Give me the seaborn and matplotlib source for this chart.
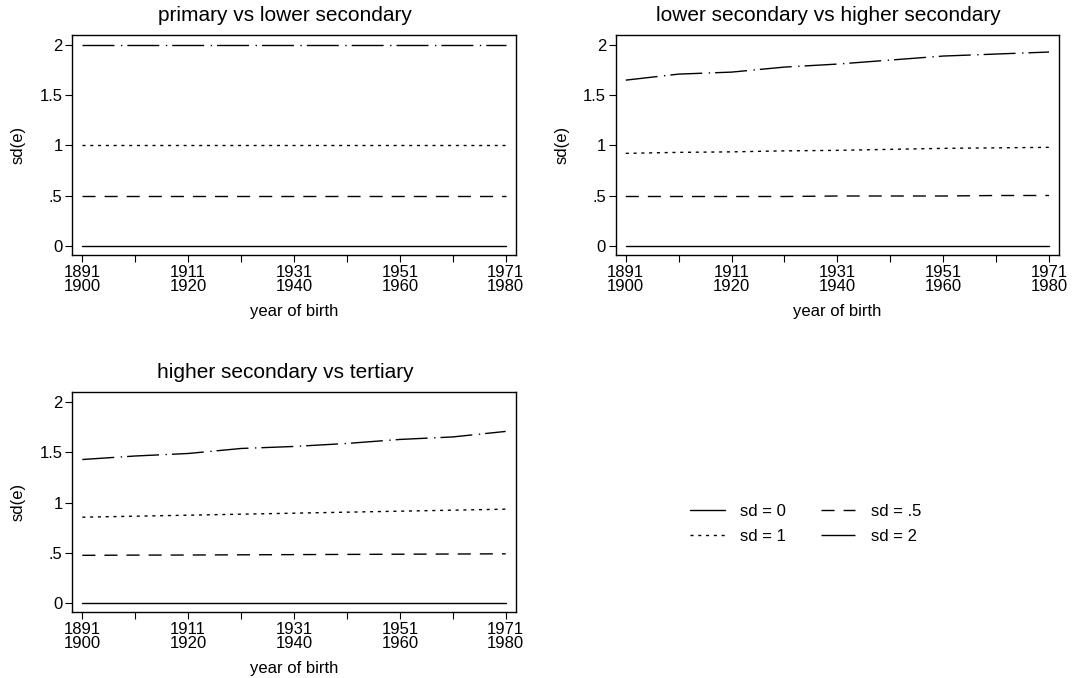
import matplotlib
matplotlib.use("Agg")
import numpy as np
import pandas as pd
import seaborn as sns
import matplotlib.pyplot as plt
from matplotlib.lines import Line2D

# cohorts of birth (10-year bands)
cohort_start = [1891, 1901, 1911, 1921, 1931, 1941, 1951, 1961, 1971]
cohort_end = [1900, 1910, 1920, 1930, 1940, 1950, 1960, 1970, 1980]

panel_titles = ["primary vs lower secondary",
                "lower secondary vs higher secondary",
                "higher secondary vs tertiary"]
sd_levels = ["sd = 0", "sd = .5", "sd = 1", "sd = 2"]

# sd(e) by cohort, one list per panel and sd level
p1_sd0 = [0, 0, 0, 0, 0, 0, 0, 0, 0]
p1_sd05 = [0.5, 0.5, 0.5, 0.5, 0.5, 0.5, 0.5, 0.5, 0.5]
p1_sd1 = [1, 1, 1, 1, 1, 1, 1, 1, 1]
p1_sd2 = [2, 2, 2, 2, 2, 2, 2, 2, 2]

p2_sd0 = [0, 0, 0, 0, 0, 0, 0, 0, 0]
p2_sd05 = [0.49, 0.49, 0.49, 0.49, 0.495, 0.495, 0.495, 0.50, 0.50]
p2_sd1 = [0.92, 0.93, 0.935, 0.945, 0.95, 0.96, 0.97, 0.975, 0.98]
p2_sd2 = [1.65, 1.71, 1.73, 1.78, 1.81, 1.85, 1.89, 1.91, 1.93]

p3_sd0 = [0, 0, 0, 0, 0, 0, 0, 0, 0]
p3_sd05 = [0.475, 0.477, 0.478, 0.48, 0.482, 0.484, 0.486, 0.488, 0.49]
p3_sd1 = [0.855, 0.865, 0.875, 0.885, 0.895, 0.905, 0.915, 0.925, 0.935]
p3_sd2 = [1.43, 1.465, 1.49, 1.54, 1.56, 1.59, 1.63, 1.655, 1.71]

panels = [
    [p1_sd0, p1_sd05, p1_sd1, p1_sd2],
    [p2_sd0, p2_sd05, p2_sd1, p2_sd2],
    [p3_sd0, p3_sd05, p3_sd1, p3_sd2],
]

rows = []
for title, series in zip(panel_titles, panels):
    for sd, vals in zip(sd_levels, series):
        for i, v in enumerate(vals):
            rows.append({"panel": title, "cohort": i, "sd": sd, "value": v})
df = pd.DataFrame(rows)

sns.set_style("ticks")
plt.rcParams['font.family'] = ['Liberation Sans', 'DejaVu Sans']
plt.rcParams['text.color'] = 'black'
plt.rcParams['axes.labelcolor'] = 'black'
plt.rcParams['xtick.color'] = 'black'
plt.rcParams['ytick.color'] = 'black'

dash_styles = {
    "sd = 0": "",
    "sd = .5": (9.4, 6.5),
    "sd = 1": (2.2, 3.4),
    "sd = 2": (23, 4.7, 1, 3.6),
}

fig = plt.figure(figsize=(10.74, 6.78), dpi=100)
axes_pos = [
    [0.0673, 0.6239, 0.4129, 0.3245],
    [0.5733, 0.6239, 0.4128, 0.3245],
    [0.0673, 0.0969, 0.4129, 0.3245],
]

tick_labels = [f"{a}\n{b}" if i % 2 == 0 else "" for i, (a, b) in enumerate(zip(cohort_start, cohort_end))]

for title, pos in zip(panel_titles, axes_pos):
    ax = fig.add_axes(pos)
    sub = df[df["panel"] == title]
    sns.lineplot(data=sub, x="cohort", y="value", style="sd", style_order=sd_levels,
                 dashes=dash_styles, color="black", linewidth=1.0, legend=False, ax=ax)
    ax.set_xlim(-0.19, 8.19)
    ax.set_ylim(-0.093, 2.1)
    ax.set_yticks([0, 0.5, 1, 1.5, 2])
    ax.set_yticklabels(["0", ".5", "1", "1.5", "2"], fontsize=12)
    ax.set_xticks(range(len(cohort_start)))
    ax.set_xticklabels(tick_labels, fontsize=12, linespacing=0.95)
    ax.tick_params(length=5, width=0.8, color="black", pad=2)
    ax.set_xlabel("year of birth", fontsize=12, labelpad=7)
    ax.set_ylabel("sd(e)", fontsize=12, labelpad=10)
    ax.set_title(title, fontsize=15, pad=10, x=0.48)
    for s in ax.spines.values():
        s.set_linewidth(1.0)
        s.set_color("black")

# legend samples; the long dash of sd = 2 fills the short sample, as in the original
legend_styles = {
    "sd = 0": "-",
    "sd = .5": (0, (9.4, 6.5)),
    "sd = 1": (0, (2.2, 3.4)),
    "sd = 2": (0, (30, 4.7, 1, 3.6)),
}
handles = {s: Line2D([], [], color="black", lw=1.0, linestyle=legend_styles[s]) for s in sd_levels}
# legend is filled column by column, so order so rows read sd=0, sd=.5 / sd=1, sd=2
leg_order = ["sd = 0", "sd = 1", "sd = .5", "sd = 2"]
fig.legend([handles[s] for s in leg_order], leg_order, loc="center",
           bbox_to_anchor=(806 / 1074, 1 - 524 / 678),
           ncol=2, frameon=False, fontsize=12, handlelength=2.05, columnspacing=2.1,
           handletextpad=0.95, labelspacing=0.58)

fig.savefig("out.png", dpi=100)
